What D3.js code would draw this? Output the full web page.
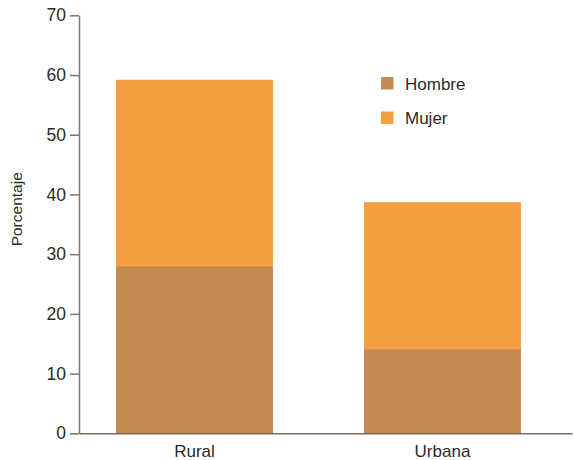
<!DOCTYPE html>
<html>
<head>
<meta charset="utf-8">
<script src="https://cdn.jsdelivr.net/npm/d3@7"></script>
<style>
  body { margin: 0; background: #fff; }
  svg text { font-family: "Liberation Sans", Arial, sans-serif; fill: #2a2a2a; }
</style>
</head>
<body>
<div id="chart"></div>
<script>
const categories = ['Rural', 'Urbana']
const series = ['Hombre', 'Mujer']
const hombre = [28, 14.1]
const mujer = [31.2, 24.6]
const yTicks = [0, 10, 20, 30, 40, 50, 60, 70]
const colors = ['#C48A50', '#F5A040']

const W = 574, H = 460
const margin = { top: 15, right: 2, bottom: 27, left: 79 }

const svg = d3.select('#chart').append('svg')
  .attr('width', W)
  .attr('height', H)

/* scales */
const x = d3.scaleBand()
  .domain(categories)
  .range([margin.left, W - margin.right])
  .paddingInner(0.367)
  .paddingOuter(0.1775)
  .align(0.42)

const y = d3.scaleLinear()
  .domain([0, 70])
  .range([H - margin.bottom + 0.3, margin.top + 0.3])

const table = categories.map((c, i) => ({ cat: c, Hombre: hombre[i], Mujer: mujer[i] }))
const stacked = d3.stack().keys(series)(table)

/* bars */
svg.append('g').selectAll('g')
  .data(stacked)
  .join('g')
    .attr('fill', (d, i) => colors[i])
  .selectAll('rect')
  .data(d => d)
  .join('rect')
    .attr('x', d => x(d.data.cat))
    .attr('width', x.bandwidth())
    .attr('y', d => y(d[1]))
    .attr('height', d => y(d[0]) - y(d[1]))

/* y axis */
const yAxis = svg.append('g')
  .attr('transform', `translate(${margin.left},0)`)
  .call(d3.axisLeft(y).tickValues(yTicks).tickSize(9).tickSizeOuter(0).tickPadding(4))
yAxis.select('.domain').attr('stroke', '#777').attr('stroke-width', 1.5)
yAxis.selectAll('.tick line').attr('stroke', '#777').attr('stroke-width', 1.5)
yAxis.selectAll('.tick text')
  .attr('font-size', 17.5)
  .attr('font-family', '"Liberation Sans", Arial, sans-serif')
  .attr('fill', '#2a2a2a')

/* x axis */
const xAxis = svg.append('g')
  .attr('transform', `translate(0,${y(0)})`)
  .call(d3.axisBottom(x).tickSize(0).tickPadding(12))
xAxis.select('.domain').attr('stroke', '#5a4a3a').attr('stroke-width', 1.5).attr('stroke-opacity', 0.8)
xAxis.selectAll('.tick text')
  .attr('font-size', 17)
  .attr('font-family', '"Liberation Sans", Arial, sans-serif')
  .attr('fill', '#2a2a2a')

/* y label */
svg.append('text')
  .attr('transform', `translate(22,${y(35) - 15}) rotate(-90)`)
  .attr('text-anchor', 'middle')
  .attr('font-size', 15.5)
  .text('Porcentaje')

/* legend */
const legend = svg.append('g').attr('transform', 'translate(381,77)')
legend.selectAll('g')
  .data(series)
  .join('g')
    .attr('transform', (d, i) => `translate(0,${i * 34.5})`)
  .call(g => g.append('rect')
    .attr('width', 12.5).attr('height', 12.5)
    .attr('fill', (d, i) => colors[i]))
  .call(g => g.append('text')
    .attr('x', 24).attr('y', 12.5)
    .attr('font-size', 17)
    .text(d => d))
</script>
</body>
</html>
